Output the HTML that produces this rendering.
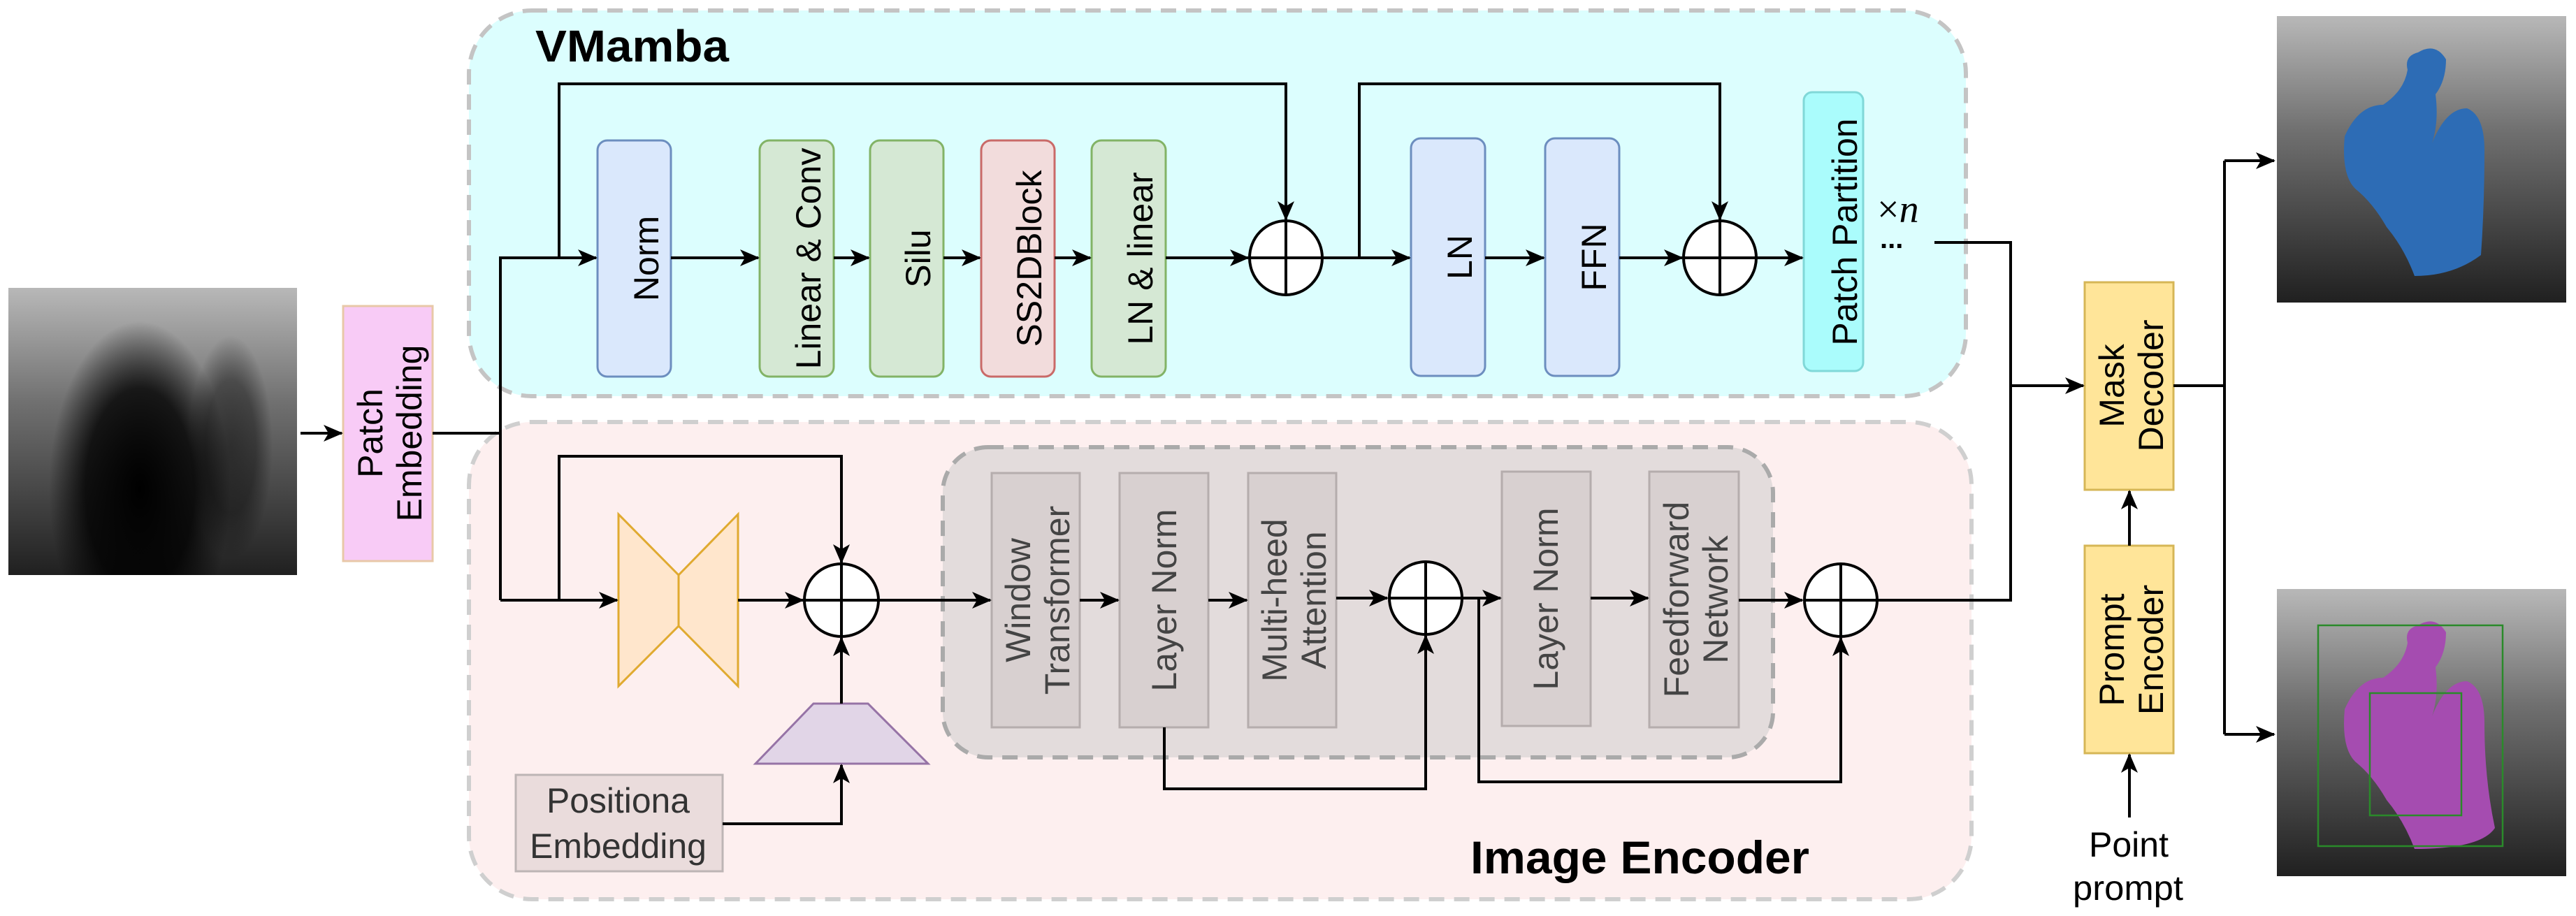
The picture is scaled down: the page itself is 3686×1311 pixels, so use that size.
<!DOCTYPE html>
<html><head><meta charset="utf-8"><style>html,body{margin:0;padding:0;background:#fff}svg{display:block}</style></head><body>
<svg width="3686" height="1311" viewBox="0 0 3686 1311" xmlns="http://www.w3.org/2000/svg" font-family="Liberation Sans, sans-serif">
<defs>
<marker id="a" markerUnits="userSpaceOnUse" markerWidth="28" markerHeight="24" refX="26" refY="12" orient="auto">
<path d="M0,0 L28,12 L0,24 L7,12 z" fill="#000"/></marker>
<linearGradient id="us2" x1="0" y1="0" x2="0" y2="1"><stop offset="0" stop-color="#b8b8b8"/><stop offset="0.4" stop-color="#707070"/><stop offset="1" stop-color="#202020"/></linearGradient>
<radialGradient id="sh" cx="50%" cy="50%" r="50%"><stop offset="0" stop-color="#000" stop-opacity="1"/><stop offset="0.6" stop-color="#000" stop-opacity="0.8"/><stop offset="1" stop-color="#000" stop-opacity="0"/></radialGradient>
<clipPath id="cl"><rect x="12" y="412" width="413" height="411"/></clipPath>
</defs>

<rect x="671" y="15" width="2142" height="552" rx="90" fill="#dcfefe" stroke="#c4c4c4" stroke-width="6" stroke-dasharray="22,14"/>
<rect x="671" y="604" width="2150" height="683" rx="90" fill="#fdefef" stroke="#cfcfcf" stroke-width="6" stroke-dasharray="22,14"/>
<rect x="1349" y="640" width="1188" height="444" rx="65" fill="#e3dcdc" stroke="#aaa" stroke-width="6" stroke-dasharray="22,14"/>

<text x="766" y="88" font-size="64" font-weight="bold" textLength="277" lengthAdjust="spacingAndGlyphs">VMamba</text>
<text x="2104" y="1250" font-size="66" font-weight="bold" textLength="485" lengthAdjust="spacingAndGlyphs">Image Encoder</text>

<g clip-path="url(#cl)">
<rect x="12" y="412" width="413" height="411" fill="url(#us2)"/>
<ellipse cx="200" cy="700" rx="130" ry="240" fill="url(#sh)"/>
<ellipse cx="330" cy="640" rx="60" ry="160" fill="url(#sh)" opacity="0.5"/>
</g>
<rect x="3258" y="23" width="414" height="410" fill="url(#us2)"/>
<path d="M3460,75 q25,-15 40,10 q0,30 -15,50 q5,40 -5,70 q20,-50 50,-50 q25,10 25,60 q0,80 -5,150 q-40,30 -95,30 q-15,-40 -40,-70 q-20,-35 -45,-55 q-20,-20 -15,-75 q20,-45 55,-45 q30,-20 35,-50 q-5,-20 15,-25z" fill="#2d6cb5"/>
<rect x="3258" y="843" width="414" height="411" fill="url(#us2)"/>
<path d="M3460,895 q25,-15 40,10 q0,30 -15,50 q5,40 -5,70 q20,-50 50,-50 q25,10 25,60 q0,80 15,150 q-20,30 -115,30 q-15,-40 -40,-70 q-20,-35 -45,-55 q-20,-20 -15,-75 q20,-45 55,-45 q30,-20 35,-50 q-5,-20 15,-25z" fill="#a54cb0"/>
<rect x="3317" y="895" width="264" height="316" fill="none" stroke="#2a8a2a" stroke-width="2.5"/>
<rect x="3391" y="992" width="131" height="175" fill="none" stroke="#2a8a2a" stroke-width="2.5"/>

<g stroke-width="3">
<rect x="491" y="438" width="128" height="365" fill="#f8cbf6" stroke="#e8c8a8"/>
<rect x="855" y="201" width="105" height="338" rx="14" fill="#dae8fc" stroke="#6c8ebf"/>
<rect x="1087" y="201" width="106" height="338" rx="14" fill="#d5e8d4" stroke="#82b366"/>
<rect x="1245" y="201" width="105" height="338" rx="14" fill="#d5e8d4" stroke="#82b366"/>
<rect x="1404" y="201" width="105" height="338" rx="14" fill="#f2dcdc" stroke="#c96a68"/>
<rect x="1562" y="201" width="106" height="338" rx="14" fill="#d5e8d4" stroke="#82b366"/>
<rect x="2019" y="198" width="106" height="340" rx="14" fill="#dae8fc" stroke="#6c8ebf"/>
<rect x="2211" y="198" width="106" height="340" rx="14" fill="#dae8fc" stroke="#6c8ebf"/>
<rect x="2581" y="132" width="85" height="399" rx="12" fill="#aafcfc" stroke="#80d8d8"/>
<rect x="1419" y="677" width="126" height="364" fill="#d8d0d0" stroke="#b5adad"/>
<rect x="1602" y="677" width="127" height="364" fill="#d8d0d0" stroke="#b5adad"/>
<rect x="1786" y="677" width="126" height="364" fill="#d8d0d0" stroke="#b5adad"/>
<rect x="2149" y="675" width="127" height="364" fill="#d8d0d0" stroke="#b5adad"/>
<rect x="2360" y="675" width="128" height="366" fill="#d8d0d0" stroke="#b5adad"/>
<rect x="738" y="1109" width="296" height="138" fill="#eadcdc" stroke="#bdb5b5"/>
<rect x="2983" y="404" width="127" height="297" fill="#ffe599" stroke="#d6b656"/>
<rect x="2983" y="781" width="127" height="297" fill="#ffe599" stroke="#d6b656"/>
<path d="M885,736 L971,823 L1056,736 L1056,982 L971,896 L885,982 Z" fill="#ffe6cc" stroke="#e0aa30"/>
<line x1="971" y1="823" x2="971" y2="896" stroke="#e0aa30"/>
<path d="M1164,1007 L1242,1007 L1328,1093 L1081,1093 Z" fill="#e1d5e7" stroke="#9673a6"/>
</g>

<g font-size="50" text-anchor="middle" fill="#000">
<text transform="translate(555,620) rotate(-90)"><tspan x="0" dy="-8">Patch</tspan><tspan x="0" dy="56">Embedding</tspan></text>
<text transform="translate(925,370) rotate(-90)" dy="17">Norm</text>
<text transform="translate(1157,370) rotate(-90)" dy="17">Linear &amp; Conv</text>
<text transform="translate(1314,370) rotate(-90)" dy="17">Silu</text>
<text transform="translate(1473,370) rotate(-90)" dy="17">SS2DBlock</text>
<text transform="translate(1632,370) rotate(-90)" dy="17">LN &amp; linear</text>
<text transform="translate(2089,368) rotate(-90)" dy="17">LN</text>
<text transform="translate(2281,368) rotate(-90)" dy="17">FFN</text>
<text transform="translate(2640,332) rotate(-90)" dy="17">Patch Partition</text>
<g fill="#444">
<text transform="translate(1482,859) rotate(-90)"><tspan x="0" dy="-8">Window</tspan><tspan x="0" dy="56">Transformer</tspan></text>
<text transform="translate(1666,859) rotate(-90)" dy="17">Layer Norm</text>
<text transform="translate(1849,859) rotate(-90)"><tspan x="0" dy="-8">Multi-heed</tspan><tspan x="0" dy="56">Attention</tspan></text>
<text transform="translate(2212,857) rotate(-90)" dy="17">Layer Norm</text>
<text transform="translate(2424,858) rotate(-90)"><tspan x="0" dy="-8">Feedforward</tspan><tspan x="0" dy="56">Network</tspan></text>
</g>
<text transform="translate(3047,552) rotate(-90)"><tspan x="0" dy="-8">Mask</tspan><tspan x="0" dy="56">Decoder</tspan></text>
<text transform="translate(3047,930) rotate(-90)"><tspan x="0" dy="-8">Prompt</tspan><tspan x="0" dy="56">Encoder</tspan></text>
</g>
<g font-size="50" fill="#333">
<text x="782" y="1163" textLength="205" lengthAdjust="spacingAndGlyphs">Positiona</text>
<text x="758" y="1228" textLength="253" lengthAdjust="spacingAndGlyphs">Embedding</text>
</g>
<g font-size="50" fill="#000">
<text x="2989" y="1226" textLength="114" lengthAdjust="spacingAndGlyphs">Point</text>
<text x="2966" y="1288" textLength="158" lengthAdjust="spacingAndGlyphs">prompt</text>
</g>
<text x="2686" y="318" font-size="56" font-family="Liberation Serif, serif"><tspan>×</tspan><tspan font-style="italic">n</tspan></text>
<text x="2690" y="355" font-size="40" font-weight="bold">...</text>

<g fill="none" stroke="#000" stroke-width="4">
<line x1="430" y1="620" x2="489" y2="620" marker-end="url(#a)"/>
<polyline points="619,620 716,620"/>
<polyline points="716,859 716,369 853,369" marker-end="url(#a)"/>
<polyline points="800,369 800,120 1840,120 1840,314" marker-end="url(#a)"/>
<line x1="960" y1="369" x2="1085" y2="369" marker-end="url(#a)"/>
<line x1="1193" y1="369" x2="1243" y2="369" marker-end="url(#a)"/>
<line x1="1350" y1="369" x2="1402" y2="369" marker-end="url(#a)"/>
<line x1="1509" y1="369" x2="1560" y2="369" marker-end="url(#a)"/>
<line x1="1668" y1="369" x2="1786" y2="369" marker-end="url(#a)"/>
<line x1="1893" y1="369" x2="2017" y2="369" marker-end="url(#a)"/>
<polyline points="1945,369 1945,120 2461,120 2461,314" marker-end="url(#a)"/>
<line x1="2125" y1="369" x2="2209" y2="369" marker-end="url(#a)"/>
<line x1="2317" y1="369" x2="2407" y2="369" marker-end="url(#a)"/>
<line x1="2514" y1="369" x2="2579" y2="369" marker-end="url(#a)"/>
<polyline points="2768,347 2877,347 2877,859 2687,859"/>
<line x1="2877" y1="552" x2="2981" y2="552" marker-end="url(#a)"/>
<line x1="3047" y1="781" x2="3047" y2="703" marker-end="url(#a)"/>
<line x1="3047" y1="1170" x2="3047" y2="1080" marker-end="url(#a)"/>
<polyline points="3110,552 3183,552"/>
<polyline points="3183,230 3183,1051"/>
<line x1="3183" y1="230" x2="3254" y2="230" marker-end="url(#a)"/>
<line x1="3183" y1="1051" x2="3254" y2="1051" marker-end="url(#a)"/>
<line x1="716" y1="859" x2="883" y2="859" marker-end="url(#a)"/>
<polyline points="800,859 800,653 1204,653 1204,805" marker-end="url(#a)"/>
<line x1="1056" y1="859" x2="1149" y2="859" marker-end="url(#a)"/>
<line x1="1204" y1="1007" x2="1204" y2="913" marker-end="url(#a)"/>
<polyline points="1034,1179 1204,1179 1204,1095" marker-end="url(#a)"/>
<line x1="1257" y1="859" x2="1417" y2="859" marker-end="url(#a)"/>
<line x1="1545" y1="859" x2="1600" y2="859" marker-end="url(#a)"/>
<line x1="1729" y1="859" x2="1784" y2="859" marker-end="url(#a)"/>
<line x1="1912" y1="856" x2="1985" y2="856" marker-end="url(#a)"/>
<polyline points="1666,1041 1666,1129 2040,1129 2040,910" marker-end="url(#a)"/>
<line x1="2093" y1="856" x2="2147" y2="856" marker-end="url(#a)"/>
<polyline points="2116,856 2116,1119 2634,1119 2634,913" marker-end="url(#a)"/>
<line x1="2276" y1="856" x2="2358" y2="856" marker-end="url(#a)"/>
<line x1="2488" y1="859" x2="2579" y2="859" marker-end="url(#a)"/>
</g>

<g fill="#fff" stroke="#000" stroke-width="4">
<ellipse cx="1840" cy="369" rx="52" ry="53"/>
<ellipse cx="2461" cy="369" rx="52" ry="53"/>
<ellipse cx="1204" cy="859" rx="53" ry="52"/>
<ellipse cx="2040" cy="856" rx="52" ry="52"/>
<ellipse cx="2634" cy="859" rx="52" ry="52"/>
</g>
<g stroke="#000" stroke-width="4">
<path d="M1788,369h104M1840,316v106M2409,369h104M2461,316v106M1151,859h106M1204,807v104M1988,856h104M2040,804v104M2582,859h104M2634,807v104"/>
</g>
</svg>
</body></html>
